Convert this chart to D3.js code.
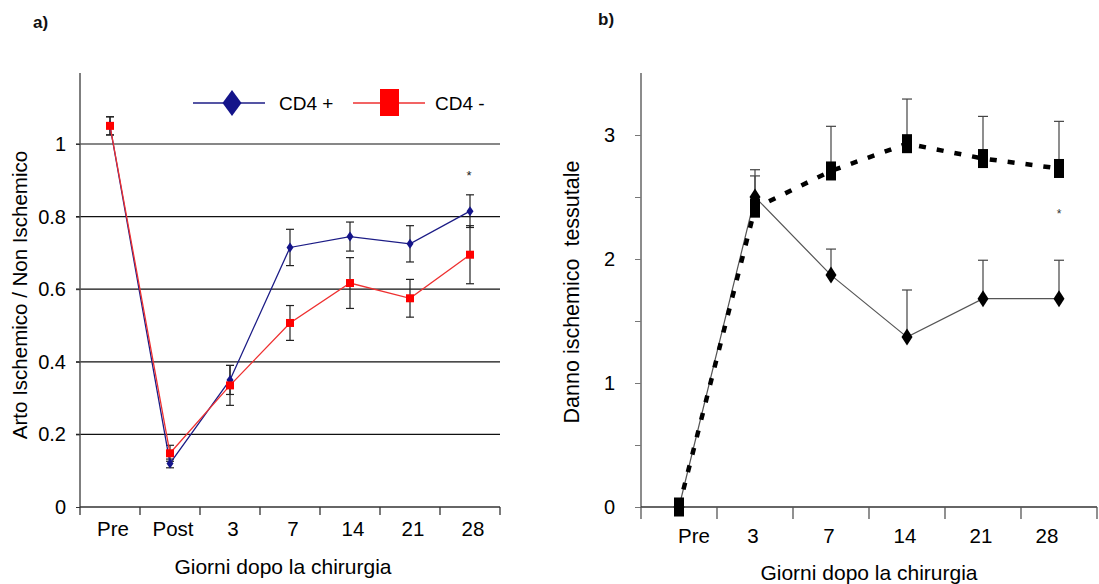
<!DOCTYPE html>
<html>
<head>
<meta charset="utf-8">
<script src="https://cdn.jsdelivr.net/npm/d3@7"></script>
<style>
  body { margin: 0; background: #fff; }
  svg { display: block; font-family: "Liberation Sans", Arial, sans-serif; }
</style>
</head>
<body>
<div id="chart"></div>
<script>
// panel a) data
const daysA = ["Pre", "Post", "3", "7", "14", "21", "28"];
const cd4Pos = [1.05, 0.12, 0.35, 0.715, 0.745, 0.725, 0.815];
const cd4PosErr = [0.025, 0.012, 0.04, 0.05, 0.04, 0.05, 0.045];
const cd4Neg = [1.05, 0.148, 0.335, 0.507, 0.617, 0.575, 0.695];
const cd4NegErr = [0.025, 0.022, 0.055, 0.048, 0.07, 0.052, 0.08];
const yTicksA = [0, 0.2, 0.4, 0.6, 0.8, 1];
const gridA = [0.2, 0.4, 0.6, 0.8, 1];

// panel b) data
const daysB = ["Pre", "3", "7", "14", "21", "28"];
const damageSolid = [0, 2.5, 1.87, 1.37, 1.68, 1.68];
const damageSolidErr = [0, 0.22, 0.21, 0.38, 0.31, 0.31];
const damageDashed = [0, 2.41, 2.71, 2.93, 2.81, 2.73];
const damageDashedErr = [0, 0.26, 0.36, 0.36, 0.34, 0.38];
const yTicksB = [0, 0.5, 1, 1.5, 2, 2.5, 3];
const yLabelsB = [0, 1, 2, 3];

// significance marks
const starA = ["28", 0.915];
const starB = ["28", 2.37];

const W = 1099, H = 584;
const svg = d3.select("#chart").append("svg").attr("width", W).attr("height", H);

// ---------- panel a ----------
const xA = d3.scaleBand().domain(daysA).range([80, 500]);
const yA = d3.scaleLinear().domain([0, 1.2]).range([507, 71.4]);
const gA = svg.append("g");

gA.append("g").selectAll("line").data(gridA).join("line")
    .attr("x1", 76).attr("x2", 500)
    .attr("y1", d => yA(d)).attr("y2", d => yA(d))
    .attr("stroke", "#111").attr("stroke-width", 1.2);

gA.append("g").attr("transform", "translate(80,0)")
    .call(d3.axisLeft(yA).tickValues(yTicksA).tickSize(4).tickFormat(d3.format("")))
    .call(g => g.select(".domain").attr("stroke", "#555").attr("stroke-width", 1.5).attr("d", "M0,507V73"))
    .call(g => g.selectAll(".tick line").attr("stroke", "#333"))
    .call(g => g.selectAll(".tick text").attr("x", -14).attr("font-size", 20).attr("fill", "#000")
      .style("font-family", "inherit"));

const xAxisA = gA.append("g").attr("transform", "translate(0,507)");
xAxisA.append("line").attr("x1", 80).attr("x2", 500).attr("stroke", "#333").attr("stroke-width", 1.5);
xAxisA.selectAll(".tk").data(daysA.concat(["end"])).join("line").attr("class", "tk")
    .attr("x1", (d, i) => i < daysA.length ? xA(d) : xA.range()[1])
    .attr("x2", (d, i) => i < daysA.length ? xA(d) : xA.range()[1])
    .attr("y1", 0).attr("y2", 8).attr("stroke", "#333").attr("stroke-width", 1.3);
xAxisA.selectAll("text").data(daysA).join("text")
    .attr("x", d => xA(d) + xA.bandwidth() / 2 + 3).attr("y", 29)
    .attr("text-anchor", "middle").attr("font-size", 20.5).attr("fill", "#000").text(d => d);

const lineA = d3.line().x((d, i) => xA(daysA[i]) + xA.bandwidth() / 2).y(d => yA(d));

function errBarsA(vals, errs) {
  const g = gA.append("g").attr("stroke", "#222").attr("stroke-width", 1.2);
  vals.forEach((v, i) => {
    const cx = xA(daysA[i]) + xA.bandwidth() / 2;
    g.append("line").attr("x1", cx).attr("x2", cx).attr("y1", yA(v - errs[i])).attr("y2", yA(v + errs[i]));
    [v - errs[i], v + errs[i]].forEach(e => g.append("line")
      .attr("x1", cx - 4).attr("x2", cx + 4).attr("y1", yA(e)).attr("y2", yA(e)));
  });
}
errBarsA(cd4Pos, cd4PosErr);
errBarsA(cd4Neg, cd4NegErr);

gA.append("path").datum(cd4Pos).attr("d", lineA).attr("fill", "none").attr("stroke", "#1c1c86").attr("stroke-width", 1.3);
gA.append("path").datum(cd4Neg).attr("d", lineA).attr("fill", "none").attr("stroke", "#ee3030").attr("stroke-width", 1.3);

gA.append("g").selectAll("path").data(cd4Pos).join("path")
    .attr("transform", (d, i) => `translate(${xA(daysA[i]) + xA.bandwidth() / 2},${yA(d)})`)
    .attr("d", "M0,-5L3.5,0L0,5L-3.5,0Z").attr("fill", "#14148a");
gA.append("g").selectAll("rect").data(cd4Neg).join("rect")
    .attr("x", (d, i) => xA(daysA[i]) + xA.bandwidth() / 2 - 4).attr("y", d => yA(d) - 4)
    .attr("width", 8).attr("height", 8).attr("fill", "#ff0000");

gA.append("text").attr("x", xA(starA[0]) + xA.bandwidth() / 2 - 1).attr("y", yA(starA[1]) + 5)
    .attr("text-anchor", "middle").attr("font-size", 13).attr("fill", "#222").text("*");

// legend
const lg = gA.append("g").attr("transform", "translate(0,103)");
lg.append("line").attr("x1", 193).attr("x2", 265).attr("stroke", "#1c1c86").attr("stroke-width", 1.5);
lg.append("path").attr("transform", "translate(232,0)").attr("d", "M0,-13L9.5,0L0,13L-9.5,0Z").attr("fill", "#14148a");
lg.append("text").attr("x", 279).attr("y", 7).attr("font-size", 19).attr("fill", "#000").text("CD4 +");
lg.append("line").attr("x1", 353).attr("x2", 425).attr("stroke", "#ee3030").attr("stroke-width", 1.5);
lg.append("rect").attr("x", 380).attr("y", -14).attr("width", 19).attr("height", 27).attr("fill", "#ff0000");
lg.append("text").attr("x", 435).attr("y", 7).attr("font-size", 19).attr("fill", "#000").text("CD4 -");

gA.append("text").attr("transform", "translate(27,295) rotate(-90)").attr("text-anchor", "middle")
    .attr("font-size", 20.5).attr("fill", "#000").text("Arto Ischemico / Non Ischemico");
gA.append("text").attr("x", 283).attr("y", 574).attr("text-anchor", "middle")
    .attr("font-size", 21).attr("fill", "#000").text("Giorni dopo la chirurgia");
svg.append("text").attr("x", 33).attr("y", 28).attr("font-size", 17).attr("font-weight", "bold").attr("fill", "#111").text("a)");

// ---------- panel b ----------
const xB = d3.scaleBand().domain(daysB).range([641, 1097]);
const yB = d3.scaleLinear().domain([0, 3.5]).range([507, 73]);
const gB = svg.append("g");

gB.append("g").attr("transform", "translate(641,0)")
    .call(d3.axisLeft(yB).tickValues(yTicksB).tickSize(6).tickFormat(d => yLabelsB.includes(d) ? d : ""))
    .call(g => g.select(".domain").attr("stroke", "#666").attr("stroke-width", 1.5).attr("d", "M0,507V73"))
    .call(g => g.selectAll(".tick line").attr("stroke", "#777"))
    .call(g => g.selectAll(".tick text").attr("x", -26).attr("font-size", 20).attr("fill", "#000")
      .style("font-family", "inherit"));

const xAxisB = gB.append("g").attr("transform", "translate(0,507)");
xAxisB.append("line").attr("x1", 641).attr("x2", 1097).attr("stroke", "#333").attr("stroke-width", 1.5);
xAxisB.selectAll(".tk").data(daysB.concat(["end"])).join("line").attr("class", "tk")
    .attr("x1", (d, i) => i < daysB.length ? xB(d) : xB.range()[1])
    .attr("x2", (d, i) => i < daysB.length ? xB(d) : xB.range()[1])
    .attr("y1", 0).attr("y2", 12).attr("stroke", "#555").attr("stroke-width", 1.3);
xAxisB.selectAll("text").data(daysB).join("text")
    .attr("x", (d, i) => xB(d) + xB.bandwidth() / 2 + (i === 0 ? 15 : i === 5 ? -12 : -2)).attr("y", 36)
    .attr("text-anchor", "middle").attr("font-size", 20.5).attr("fill", "#000").text(d => d);

const lineB = d3.line().x((d, i) => xB(daysB[i]) + xB.bandwidth() / 2).y(d => yB(d));

function errBarsB(vals, errs) {
  const g = gB.append("g").attr("stroke", "#444").attr("stroke-width", 1.2);
  vals.forEach((v, i) => {
    if (!errs[i]) return;
    const cx = xB(daysB[i]) + xB.bandwidth() / 2;
    g.append("line").attr("x1", cx).attr("x2", cx).attr("y1", yB(v)).attr("y2", yB(v + errs[i]));
    g.append("line").attr("x1", cx - 5).attr("x2", cx + 5).attr("y1", yB(v + errs[i])).attr("y2", yB(v + errs[i]));
  });
}
errBarsB(damageSolid, damageSolidErr);
errBarsB(damageDashed, damageDashedErr);

gB.append("path").datum(damageSolid).attr("d", lineB).attr("fill", "none").attr("stroke", "#555").attr("stroke-width", 1.2);
gB.append("path").datum(damageDashed).attr("d", lineB).attr("fill", "none").attr("stroke", "#000")
    .attr("stroke-width", 4.5).attr("stroke-dasharray", "7,11");

gB.append("g").selectAll("path").data(damageSolid).join("path")
    .attr("transform", (d, i) => `translate(${xB(daysB[i]) + xB.bandwidth() / 2},${yB(d)})`)
    .attr("d", "M0,-8.5L5.5,0L0,8.5L-5.5,0Z").attr("fill", "#000");
gB.append("g").selectAll("rect").data(damageDashed).join("rect")
    .attr("x", (d, i) => xB(daysB[i]) + xB.bandwidth() / 2 - 5).attr("y", d => yB(d) - 9.5)
    .attr("width", 10).attr("height", 19).attr("fill", "#000");

gB.append("text").attr("x", xB(starB[0]) + xB.bandwidth() / 2).attr("y", yB(starB[1]) + 5)
    .attr("text-anchor", "middle").attr("font-size", 12).attr("fill", "#333").text("*");

gB.append("text").attr("transform", "translate(579,292) rotate(-90)").attr("text-anchor", "middle")
    .attr("font-size", 21.5).attr("fill", "#000").style("white-space", "pre")
    .text("Danno ischemico  tessutale");
gB.append("text").attr("x", 869).attr("y", 580).attr("text-anchor", "middle")
    .attr("font-size", 21).attr("fill", "#000").text("Giorni dopo la chirurgia");
svg.append("text").attr("x", 598).attr("y", 25).attr("font-size", 17).attr("font-weight", "bold").attr("fill", "#111").text("b)");
</script>
</body>
</html>
